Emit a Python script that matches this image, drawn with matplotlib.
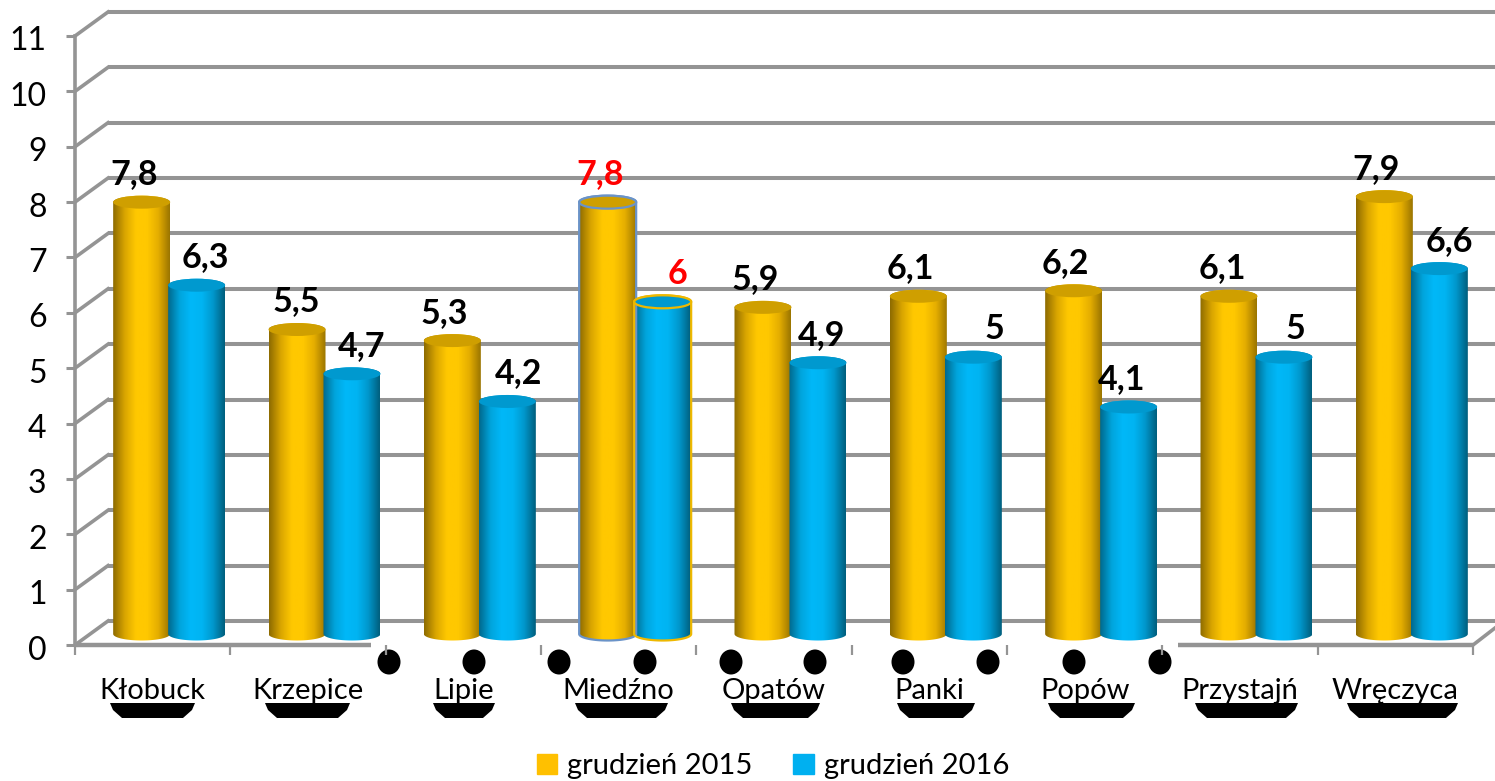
import matplotlib
matplotlib.use("Agg")
import matplotlib.pyplot as plt
import numpy as np
from matplotlib.colors import LinearSegmentedColormap
from matplotlib.patches import Ellipse, Patch, Polygon
from matplotlib.transforms import ScaledTranslation

plt.rcParams['font.family'] = ['Lato', 'DejaVu Sans']

gminy = ["Kłobuck", "Krzepice", "Lipie", "Miedźno", "Opatów", "Panki", "Popów", "Przystajń", "Wręczyca"]
grudzien_2015 = [7.8, 5.5, 5.3, 7.8, 5.9, 6.1, 6.2, 6.1, 7.9]
grudzien_2016 = [6.3, 4.7, 4.2, 6.0, 4.9, 5.0, 4.1, 5.0, 6.6]
y_ticks = list(range(12))

# label nudges in px, the original labels were placed by hand
nudge_2015 = [-8, -1, -8, -8, -8, -8, -8, -7, -8]
nudge_2016 = [9, 10, 11, 15, 4, 21, -7, 11, 10]

W, H = 1495, 781
fig = plt.figure(figsize=(W / 100, H / 100), dpi=100)
ax = fig.add_axes([75 / W, 1 - 645 / H, 1398 / W, 609 / H])
ax.set_xlim(0, 9)
ax.set_ylim(0, 11)
px_x = 9 / 1398
px_y = 11 / 609

grey = "#949494"
depth_x = 33 * px_x
depth_y = 24 * px_y

# back wall and the slanted lines on the left side
for v in y_ticks:
    ax.plot([depth_x, 9.2], [v + depth_y, v + depth_y], color=grey, lw=2.9, zorder=1, clip_on=False, solid_capstyle="butt")
    ax.plot([0, depth_x], [v, v + depth_y], color=grey, lw=2.6, zorder=1, clip_on=False)
ax.plot([9, 9 + 22 * px_x], [0, 17 * px_y], color=grey, lw=2.6, zorder=1, clip_on=False)

# floor line, a white box hides its middle part in the original
ax.plot([0, 296 * px_x], [0, 0], color=grey, lw=3.2, clip_on=False, zorder=1, solid_capstyle="butt")
ax.plot([1103 * px_x, 9], [0, 0], color=grey, lw=3.2, clip_on=False, zorder=1, solid_capstyle="butt")

orange_map = LinearSegmentedColormap.from_list("o", ["#8f6c00", "#d9a500", "#ffc800", "#ffc800", "#e5ae00", "#9c7600"])
blue_map = LinearSegmentedColormap.from_list("b", ["#006a8e", "#00a4dc", "#00b8f8", "#00b4f2", "#0097cc", "#00607f"])
grad = np.linspace(0, 1, 64).reshape(1, -1)

bar_w = 57 * px_x
ell_h = 13 * px_y
lift = 11 * px_y  # bars stand a bit behind the front edge of the floor


def cylinder(xc, val, cmap, top_col, edge=None):
    top = val + lift
    t = np.linspace(0, np.pi, 40)
    xs = xc + bar_w / 2 * np.cos(t)
    low = lift - ell_h / 2 * np.sin(t)
    hi = top + ell_h / 2 * np.sin(t)
    pts = np.column_stack([np.r_[xs[::-1], xs], np.r_[low[::-1], hi]])
    body = Polygon(pts, closed=True, fc="none", ec="none")
    ax.add_patch(body)
    im = ax.imshow(grad, cmap=cmap, aspect="auto", zorder=3,
                   extent=[xc - bar_w / 2, xc + bar_w / 2, 0, top + ell_h])
    im.set_clip_path(body)
    if edge:
        ax.add_patch(Polygon(pts, closed=True, fc="none", ec=edge, lw=1.6, zorder=3.1, clip_on=False))
    ax.add_patch(Ellipse((xc, top), bar_w, ell_h, fc=top_col, ec=edge if edge else "none",
                         lw=1.6 if edge else 0, zorder=3.2, clip_on=False))


for i in range(len(gminy)):
    c = i + 0.5
    x1 = c - 11 * px_x
    x2 = c + 44 * px_x
    highlight = gminy[i] == "Miedźno"
    cylinder(x1, grudzien_2015[i], orange_map, "#cf9f00", "#6a93c8" if highlight else None)
    cylinder(x2, grudzien_2016[i], blue_map, "#0099cf", "#eeb800" if highlight else None)
    col = "red" if highlight else "black"
    ax.text(x1 + nudge_2015[i] * px_x, grudzien_2015[i] + 39 * px_y,
            "{:g}".format(grudzien_2015[i]).replace(".", ","),
            ha="center", va="center", fontsize=24.5, fontweight="bold", color=col, zorder=5)
    ax.text(x2 + nudge_2016[i] * px_x, grudzien_2016[i] + 39 * px_y,
            "{:g}".format(grudzien_2016[i]).replace(".", ","),
            ha="center", va="center", fontsize=24.5, fontweight="bold", color=col, zorder=5)

ax.set_xlim(0, 9)
ax.set_ylim(0, 11)

for s in ["top", "right", "bottom"]:
    ax.spines[s].set_visible(False)
ax.spines["left"].set_color(grey)
ax.spines["left"].set_linewidth(2.6)
ax.set_yticks(y_ticks)
ax.set_yticklabels([str(v) for v in y_ticks], fontsize=23)
ax.tick_params(axis="y", length=6.5, width=2.2, color=grey, pad=14)
shift = ScaledTranslation(0, -2.5 / 100, fig.dpi_scale_trans)
for lab in ax.get_yticklabels():
    lab.set_transform(lab.get_transform() + shift)
ax.set_xticks(range(10))
ax.set_xticklabels([""] * 10)
ax.tick_params(axis="x", length=7, width=1.6, color=grey)
ax.set_xticks(np.arange(9) + 0.5, minor=True)
ax.set_xticklabels(gminy, minor=True, fontsize=21)
ax.tick_params(axis="x", which="minor", length=0, pad=24)

ax.legend(handles=[Patch(color="#ffc000", label="grudzień 2015"), Patch(color="#00b0f0", label="grudzień 2016")],
          ncol=2, frameon=False, fontsize=21, loc="center", bbox_to_anchor=(773 / W, 1 - 766 / H),
          bbox_transform=fig.transFigure, handlelength=0.7, handleheight=0.7, handletextpad=0.35,
          columnspacing=1.4, borderpad=0)

# black blobs left over in the picture, in pixel coordinates of the image
deco = fig.add_axes([0, 0, 1, 1], zorder=-1)
deco.set_xlim(0, W)
deco.set_ylim(H, 0)
deco.axis("off")
dots = [389, 474, 559, 645, 731, 815, 903, 988, 1074, 1160]
for d in dots:
    deco.add_patch(Ellipse((d, 662), 23, 25, fc="black", ec="none"))
bowls = [(110, 195), (265, 350), (433, 495), (575, 668), (731, 820), (897, 975), (1048, 1135), (1195, 1298), (1347, 1458)]
for a, b in bowls:
    deco.add_patch(Polygon([(a, 703), (b, 703), (b - 3, 710), (b - 12, 718), (a + 12, 718), (a + 3, 710)], fc="black", ec="none"))

ax.patch.set_alpha(0)
fig.savefig("out.png", dpi=100)
